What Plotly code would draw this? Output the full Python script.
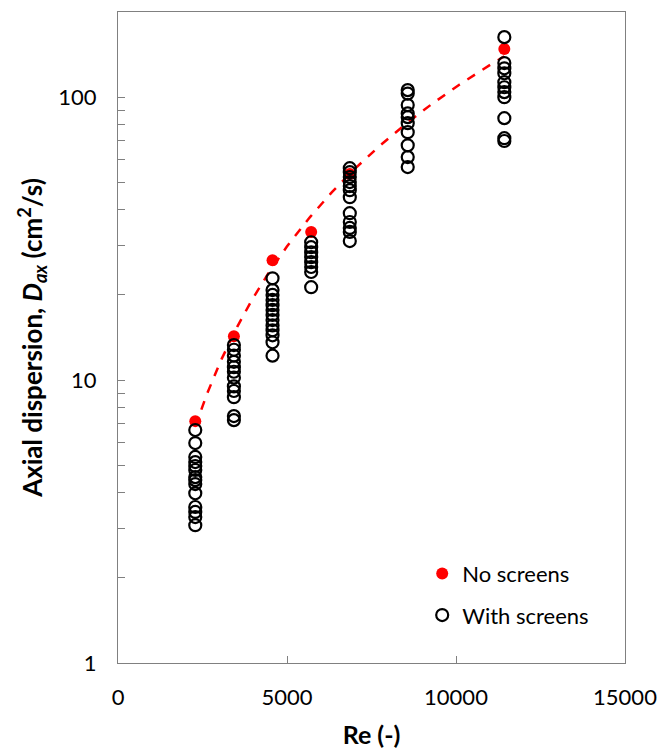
import numpy as np
import plotly.graph_objects as go

# Reynolds numbers of the test conditions
re_levels = [2286, 3429, 4572, 5715, 6858, 8572, 11430]

# No screens (red filled)
re_noscreen = [2286, 3429, 4572, 5715, 6858, 11430]
d_noscreen = [7.16, 14.3, 26.5, 33.4, 53.5, 148]

# With screens (open circles), per Re level
d_screen_2286 = [6.66, 5.99, 5.35, 5.13, 4.97, 4.81, 4.54, 4.43, 4.29, 3.98, 3.56, 3.42, 3.28, 3.07]
d_screen_3429 = [13.3, 12.8, 12.2, 11.6, 11.1, 10.7, 10.2, 9.5, 9.15, 8.7, 7.46, 7.22]
d_screen_4572 = [22.9, 20.8, 20.0, 19.2, 18.4, 17.7, 17.0, 16.3, 15.6, 15.0, 14.4, 13.6, 12.2]
d_screen_5715 = [30.7, 29.5, 28.3, 27.2, 26.1, 25.1, 24.1, 21.3]
d_screen_6858 = [56.1, 54.3, 52.2, 50.1, 48.5, 46.9, 44.3, 38.9, 36.2, 34.5, 33.4, 31.0]
d_screen_8572 = [105.9, 103, 93.8, 87.6, 85, 80.9, 75.2, 67.6, 61.4, 56.6]
d_screen_11430 = [163, 132, 126.5, 121.5, 113, 108.4, 104.2, 100, 84.3, 71.6, 70]

groups = [d_screen_2286, d_screen_3429, d_screen_4572, d_screen_5715,
          d_screen_6858, d_screen_8572, d_screen_11430]
re_screen = []
d_screen = []
for r, g in zip(re_levels, groups):
    re_screen += [r] * len(g)
    d_screen += g

# power-law trendline through the no-screen data
b, a = np.polyfit(np.log10(re_noscreen), np.log10(d_noscreen), 1)
re_fit = np.linspace(min(re_noscreen), max(re_noscreen), 200)
d_fit = 10 ** (a + b * np.log10(re_fit))

FONT = "Lato"

fig = go.Figure()
fig.add_trace(go.Scatter(x=re_fit, y=d_fit, mode="lines",
                         line=dict(color="#ff0000", width=2.5, dash="dash"),
                         showlegend=False, hoverinfo="skip"))
fig.add_trace(go.Scatter(x=re_noscreen, y=d_noscreen, mode="markers", name="No screens",
                         legendgroup="a",
                         marker=dict(color="#ff0000", size=12, symbol="circle")))
fig.add_trace(go.Scatter(x=re_screen, y=d_screen, mode="markers", name="With screens",
                         legendgroup="b",
                         marker=dict(color="black", size=12, symbol="circle-open",
                                     line=dict(color="black", width=2.2))))

minor_vals = [m * 10 ** k for k in range(0, 3) for m in range(2, 10) if m * 10 ** k < 200]

fig.update_layout(
    width=662, height=753,
    margin=dict(l=118, r=37, t=12, b=90),
    paper_bgcolor="white", plot_bgcolor="white",
    font=dict(family=FONT, size=22, color="black"),
    showlegend=True,
    legend=dict(x=0.6, y=0.105, xanchor="left", yanchor="middle",
                bgcolor="rgba(0,0,0,0)", font=dict(size=22, family=FONT),
                traceorder="grouped", tracegroupgap=10),
    xaxis=dict(range=[0, 15000], tickvals=[0, 5000, 10000, 15000],
               ticktext=["0", "5000", "10000", "15000"],
               ticks="inside", ticklen=7, tickcolor="#808080",
               showline=True, linecolor="#808080", linewidth=1.2, mirror=True,
               showgrid=False, zeroline=False, ticklabelstandoff=14, automargin=False,
               tickfont=dict(size=22, family=FONT),
               title=dict(text="<b>Re (-)</b>", font=dict(size=25, family=FONT), standoff=17)),
    yaxis=dict(type="log", range=[0, np.log10(200)], tickvals=[1, 10, 100],
               ticktext=["1", "10", "100"],
               ticks="inside", ticklen=7, tickcolor="#808080",
               minor=dict(tickvals=minor_vals, ticks="inside", ticklen=7, tickcolor="#808080",
                          showgrid=False),
               showline=True, linecolor="#808080", linewidth=1.2, mirror=True,
               showgrid=False, zeroline=False, ticklabelstandoff=16, automargin=False,
               tickfont=dict(size=22, family=FONT),
               title=dict(text="<b>Axial dispersion, <i>D<sub>ax</sub></i> (cm<sup>2</sup>/s)</b>",
                          font=dict(size=26, family=FONT), standoff=8)),
)

fig.write_html("out.html")
